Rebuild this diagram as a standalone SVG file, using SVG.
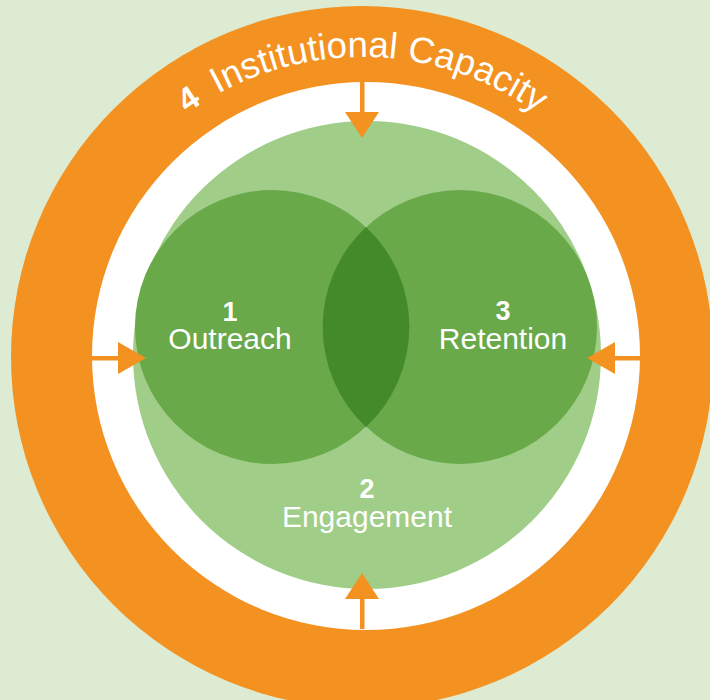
<svg xmlns="http://www.w3.org/2000/svg" width="710" height="700" viewBox="0 0 710 700">
<defs>
<style>
.or{fill:#f39121}
.lbl{font-family:"Liberation Sans",Arial,sans-serif;fill:#ffffff;text-anchor:middle}
.num{font-weight:bold;font-size:27px}
.name{font-size:30px}
</style>
<path id="arc" d="M 62,357 A 300 300 0 0 1 662,357"/>
</defs>
<rect width="710" height="700" fill="#dcebd1"/>
<g id="capacity">
<circle cx="362" cy="357" r="351" class="or"/>
<circle cx="366" cy="356" r="274" fill="#ffffff"/>
<text class="lbl" font-size="36.5"><textPath href="#arc" startOffset="50%"><tspan font-weight="bold" font-size="33">4</tspan><tspan dx="8"> Institutional Capacity</tspan></textPath></text>
</g>
<g id="engagement">
<circle cx="367" cy="355" r="234" fill="#a0cd87"/>
<text class="lbl num" x="367" y="498">2</text>
<text class="lbl name" x="367" y="527">Engagement</text>
</g>
<g id="outreach">
<circle cx="272" cy="327" r="137" fill="#69a94a"/>
</g>
<g id="retention">
<circle cx="460" cy="327" r="137" fill="#69a94a"/>
</g>
<path d="M366,227 A137 137 0 0 1 366,427 A137 137 0 0 1 366,227 Z" fill="#448a2a"/>
<text class="lbl num" x="230" y="321">1</text>
<text class="lbl name" x="230" y="349">Outreach</text>
<text class="lbl num" x="503" y="320">3</text>
<text class="lbl name" x="503" y="349">Retention</text>
<g id="connectors" class="or">
<rect x="360" y="82" width="4.5" height="32"/>
<polygon points="345,112 379,112 362,138"/>
<rect x="360" y="597" width="4.5" height="32"/>
<polygon points="345,599 379,599 362,573"/>
<rect x="92" y="356" width="28" height="4.5"/>
<polygon points="118,342 118,374 146,358"/>
<rect x="613" y="356" width="28" height="4.5"/>
<polygon points="615,342 615,374 587,358"/>
</g>
</svg>
